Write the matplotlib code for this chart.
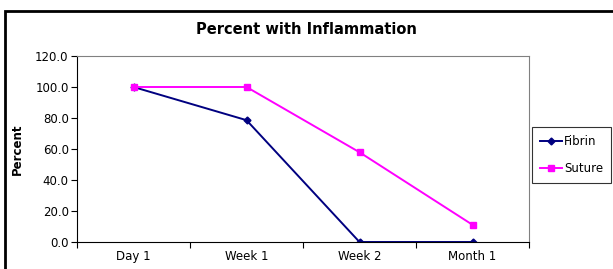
import matplotlib
matplotlib.use("Agg")
import matplotlib.pyplot as plt
from matplotlib.patches import Rectangle
from matplotlib.ticker import FixedLocator

categories = ["Day 1", "Week 1", "Week 2", "Month 1"]
fibrin = [100.0, 78.6, 0.0, 0.0]
suture = [100.0, 100.0, 57.9, 11.1]
yticks = [0, 20, 40, 60, 80, 100, 120]

W, H = 613, 269
fig = plt.figure(figsize=(W / 100, H / 100), dpi=100)
fig.patch.set_facecolor("white")

# outer chart border
fig.patches.append(Rectangle((5 / W, 0 - 0.05), 1.1, (H - 11) / H + 0.05,
                             transform=fig.transFigure, fill=False,
                             edgecolor="black", linewidth=2.0, clip_on=False))

ax = fig.add_axes([77 / W, (H - 242) / H, (529 - 77) / W, (242 - 56) / H])
x = list(range(len(categories)))
ax.plot(x, fibrin, color="#000080", marker="D", markersize=3.5, linewidth=1.4, label="Fibrin")
ax.plot(x, suture, color="#FF00FF", marker="s", markersize=5, linewidth=1.4, label="Suture")

ax.set_xlim(-0.5, len(categories) - 0.5)
ax.set_ylim(0, 120)
ax.set_yticks(yticks)
ax.set_yticklabels([f"{v:.1f}" for v in yticks], fontsize=8.5)
ax.set_xticks(x)
ax.set_xticklabels(categories, fontsize=8.5)
ax.tick_params(axis="x", length=0, pad=6)
ax.xaxis.set_minor_locator(FixedLocator([i - 0.5 for i in range(len(categories) + 1)]))
ax.tick_params(axis="x", which="minor", length=4, direction="out", width=0.8)
ax.tick_params(axis="y", length=4, direction="out", width=0.8, pad=2)

for s in ["top", "right"]:
    ax.spines[s].set_color("#808080")
    ax.spines[s].set_linewidth(0.8)
for s in ["left", "bottom"]:
    ax.spines[s].set_color("black")
    ax.spines[s].set_linewidth(0.8)

ax.set_ylabel("Percent", fontsize=8.5, fontweight="bold", labelpad=8)
fig.text(306 / W, 1 - 29 / H, "Percent with Inflammation", ha="center", va="center",
         fontsize=10.5, fontweight="bold")

leg = ax.legend(loc="center left", bbox_to_anchor=(532 / W, 1 - 155 / H),
                bbox_transform=fig.transFigure, fontsize=8.5, frameon=True,
                fancybox=False, edgecolor="black", handlelength=1.8,
                handletextpad=0.2, borderpad=0.7, labelspacing=1.2,
                borderaxespad=0)
leg.get_frame().set_linewidth(0.8)

fig.savefig("out.png", dpi=100)
